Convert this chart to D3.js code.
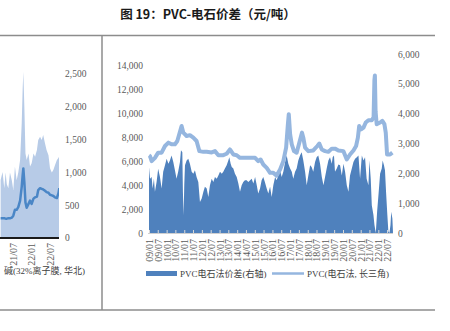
<!DOCTYPE html>
<html>
<head>
<meta charset="utf-8">
<script src="https://cdn.jsdelivr.net/npm/d3@7"></script>
<style>
  body { margin: 0; background: #fff; }
  svg { display: block; }
</style>
</head>
<body>
<svg id="chart" width="450" height="331"></svg>
<script>
// ---------- PVC price (calcium carbide route, Yangtze River Delta), yuan/t, left axis ----------
const pvcDates = ["2009-01-01","2009-01-22","2009-02-25","2009-05-04","2009-07-10","2009-09-19","2009-11-28","2010-02-07","2010-04-13","2010-06-22","2010-08-10","2010-09-19","2010-11-07","2010-12-13","2011-02-19","2011-04-28","2011-07-07","2011-09-13","2011-11-10","2012-02-01","2012-04-10","2012-07-22","2012-09-28","2012-12-07","2013-03-19","2013-05-28","2013-08-04","2013-10-13","2013-12-22","2014-02-28","2014-06-10","2014-09-22","2015-01-07","2015-03-13","2015-05-01","2015-06-25","2015-09-04","2015-11-13","2016-01-19","2016-03-28","2016-06-07","2016-08-13","2016-10-10","2016-11-13","2016-12-04","2017-01-01","2017-02-04","2017-03-22","2017-05-16","2017-07-10","2017-09-04","2017-10-01","2017-11-07","2018-01-13","2018-04-25","2018-07-19","2018-08-28","2018-10-19","2018-12-25","2019-03-04","2019-05-13","2019-07-19","2019-09-28","2020-01-10","2020-03-19","2020-05-25","2020-08-04","2020-09-28","2020-11-04","2020-12-01","2021-01-10","2021-02-28","2021-04-16","2021-06-10","2021-08-19","2021-09-25","2021-10-12","2021-10-22","2021-11-05","2021-11-28","2022-02-07","2022-03-25","2022-05-07","2022-06-04","2022-07-01","2022-09-01","2022-10-19"];
const pvcPrice = [6500,6440,6020,6300,6730,6730,7290,7570,7430,7430,7710,8270,8970,8410,8130,8200,7990,7710,6860,6800,6800,6750,6860,6520,6520,6640,7000,6580,6520,6300,6300,6300,6300,6020,6160,5740,5460,5040,5040,4810,5320,6020,7150,8970,9960,8270,7430,6860,6730,7570,8410,7990,7150,6860,6920,7290,7490,7000,6860,6800,7070,7070,6920,6860,6160,6580,6920,7290,7990,8970,8690,8830,9260,9450,9450,9700,12800,13200,10200,9120,9260,9400,9120,8410,6580,6580,6730];

// ---------- PVC vs calcium carbide spread, yuan/t, right axis ----------
const spreadDates = ["2009-01-01","2009-01-22","2009-02-25","2009-03-16","2009-04-13","2009-05-04","2009-06-07","2009-07-10","2009-08-16","2009-09-19","2009-10-22","2009-11-28","2010-01-01","2010-02-07","2010-03-10","2010-04-13","2010-05-19","2010-06-22","2010-07-25","2010-08-28","2010-10-04","2010-10-25","2010-11-22","2010-12-04","2010-12-19","2011-01-01","2011-01-16","2011-02-19","2011-03-25","2011-04-28","2011-06-04","2011-07-07","2011-08-10","2011-09-13","2011-10-19","2011-11-22","2011-12-28","2012-02-01","2012-03-04","2012-04-10","2012-05-13","2012-06-16","2012-07-22","2012-08-25","2012-09-28","2012-11-04","2012-12-07","2013-01-10","2013-02-16","2013-03-19","2013-04-22","2013-05-28","2013-07-01","2013-07-22","2013-08-19","2013-09-10","2013-10-13","2013-11-16","2013-12-22","2014-01-25","2014-02-28","2014-04-04","2014-05-07","2014-06-10","2014-07-16","2014-08-19","2014-10-28","2014-12-01","2015-01-07","2015-02-10","2015-03-13","2015-04-19","2015-05-22","2015-06-25","2015-07-28","2015-09-04","2015-10-07","2015-11-13","2015-12-16","2016-01-19","2016-02-25","2016-03-28","2016-05-01","2016-06-07","2016-07-10","2016-08-13","2016-09-19","2016-10-22","2016-11-25","2017-01-01","2017-02-04","2017-03-07","2017-04-13","2017-05-16","2017-06-19","2017-07-25","2017-08-28","2017-10-01","2017-11-07","2017-12-10","2018-01-13","2018-02-19","2018-03-22","2018-04-25","2018-06-01","2018-07-04","2018-08-07","2018-09-13","2018-10-19","2018-11-22","2018-12-25","2019-01-28","2019-03-04","2019-04-07","2019-05-13","2019-06-01","2019-06-28","2019-07-19","2019-08-25","2019-09-28","2019-11-01","2019-12-07","2020-01-10","2020-02-13","2020-03-19","2020-04-22","2020-05-25","2020-07-01","2020-08-04","2020-09-07","2020-10-13","2020-11-16","2020-12-19","2021-01-25","2021-02-28","2021-04-01","2021-05-04","2021-06-10","2021-07-01","2021-07-28","2021-08-19","2021-09-22","2021-10-13","2021-11-10","2021-12-07","2022-01-04","2022-02-07","2022-03-13","2022-04-01","2022-04-28","2022-05-19","2022-06-10","2022-07-07","2022-07-28","2022-08-19","2022-09-10","2022-09-25","2022-10-19","2022-10-31"];
const spreadValues = [2200,1820,1880,1490,1820,1380,1710,2150,1880,1490,2050,2270,2490,2320,2430,2600,2380,2100,1820,2050,2380,2770,2710,1380,600,1600,2270,2430,2490,2320,2050,1990,2100,1880,1710,1040,1160,1380,1550,1490,1210,1600,1820,1710,1880,1820,1930,2050,1990,2050,2160,2270,2430,2540,2320,2210,2160,1990,1880,1660,1380,1600,1710,1770,1770,1710,1820,1660,1880,1600,1320,1490,1770,1880,1710,1490,1320,1550,1210,1600,1880,1770,1930,2100,1880,2050,2380,2600,2320,2160,2050,1820,2050,2160,2430,2600,2710,2430,2050,1600,1930,2270,2210,2050,2380,2540,2600,2320,1880,1600,1880,2160,2430,2540,2320,2540,2600,2050,2160,2300,2270,1930,2320,2050,1600,1380,1930,2160,2380,2490,2540,2600,1820,2600,2430,2540,1820,1600,2430,1820,930,600,270,0,710,1270,1990,2160,2430,2270,2100,1380,600,60,0,270,710,490,50];

const xTickLabels = ["09/01","09/07","10/01","10/07","11/01","11/07","12/01","12/07","13/01","13/07","14/01","14/07","15/01","15/07","16/01","16/07","17/01","17/07","18/01","18/07","19/01","19/07","20/01","20/07","21/01","21/07","22/01","22/07"];
const leftTicks = [0, 2000, 4000, 6000, 8000, 10000, 12000, 14000];
const rightTicks = [0, 1000, 2000, 3000, 4000, 5000, 6000];

// ---------- neighbouring panel: caustic soda (32% ion membrane, North China) ----------
const sideDates = ["2021-03-01","2021-03-20","2021-04-06","2021-04-19","2021-05-01","2021-05-16","2021-06-01","2021-06-19","2021-07-04","2021-07-20","2021-08-06","2021-08-22","2021-09-09","2021-09-25","2021-10-04","2021-10-11","2021-10-21","2021-11-01","2021-11-13","2021-12-01","2021-12-16","2022-01-01","2022-01-19","2022-02-04","2022-02-22","2022-03-07","2022-03-25","2022-04-10","2022-04-25","2022-05-13","2022-05-28","2022-06-16","2022-07-01","2022-07-19","2022-08-04","2022-08-19","2022-09-07","2022-09-22","2022-10-01"];
const sideAreaValues = [884,1006,760,1000,820,760,1000,880,730,1090,880,1000,1190,1750,2260,2535,2000,1290,1190,1290,1090,1140,1290,1240,1340,1494,1545,1494,1570,1440,1340,1260,1062,1000,1040,1110,1190,1220,1250];
const sideLineValues = [300,300,300,295,295,300,300,310,340,430,430,470,570,780,950,1060,850,540,460,520,570,520,600,620,630,730,760,750,740,720,700,690,660,650,640,620,610,680,760];
const sideTickLabels = ["21/07","22/01","22/07"];
const sideTicks = [0, 500, 1000, 1500, 2000, 2500];

const SERIF = '"Liberation Serif", "Noto Sans CJK SC", serif';
const parseDay = d3.timeParse("%Y-%m-%d");
const parseTick = d3.timeParse("%y/%m");
const svg = d3.select("#chart");

// ---------- page frame ----------
svg.append("text")
  .attr("x", 208).attr("y", 18.5)
  .attr("text-anchor", "middle")
  .style("font-family", '"Noto Sans CJK SC", sans-serif')
  .style("font-weight", "bold")
  .style("font-size", "12.5px")
  .attr("fill", "#1a1a1a")
  .text("图 19：PVC-电石价差（元/吨）");

const frame = svg.append("g").attr("stroke", "#8c8c8c").attr("stroke-width", 1.5);
frame.append("line").attr("x1", 0).attr("x2", 435).attr("y1", 35.5).attr("y2", 35.5);
frame.append("line").attr("x1", 0).attr("x2", 435).attr("y1", 310).attr("y2", 310);
frame.append("line").attr("x1", 102).attr("x2", 102).attr("y1", 35.5).attr("y2", 310);

// ---------- neighbouring panel (cut off at the page edge) ----------
const side = svg.append("g");
side.append("clipPath").attr("id", "sideClip")
  .append("rect").attr("x", 0).attr("y", 40).attr("width", 59).attr("height", 200);

const xs = d3.scaleTime()
  .domain([parseDay("2021-07-01"), parseDay("2022-07-01")])
  .range([13, 50]);
const ys = d3.scaleLinear().domain([0, 2500]).range([238, 74]);

const sideData = sideDates.map((d, i) => ({ date: parseDay(d), a: sideAreaValues[i], l: sideLineValues[i] }));

side.append("path")
  .datum(sideData)
  .attr("clip-path", "url(#sideClip)")
  .attr("fill", "#b7cbe7")
  .attr("d", d3.area().x(d => xs(d.date)).y0(ys(0)).y1(d => ys(d.a)));

side.append("path")
  .datum(sideData)
  .attr("clip-path", "url(#sideClip)")
  .attr("fill", "none")
  .attr("stroke", "#4a86c6")
  .attr("stroke-width", 2.5)
  .attr("stroke-linejoin", "round")
  .attr("d", d3.line().x(d => xs(d.date)).y(d => ys(d.l)));

side.append("line")
  .attr("x1", 0).attr("x2", 59).attr("y1", 238).attr("y2", 238)
  .attr("stroke", "#1a1a1a").attr("stroke-width", 2);

side.selectAll("text.sy")
  .data(sideTicks)
  .join("text")
  .attr("class", "sy")
  .attr("x", 65).attr("y", d => ys(d)).attr("dy", "0.35em")
  .style("font-family", SERIF).style("font-size", "9.5px")
  .attr("fill", "#595959")
  .text(d => d3.format(",")(d));

side.selectAll("text.sx")
  .data(sideTickLabels)
  .join("text")
  .attr("class", "sx")
  .attr("transform", d => `translate(${xs(parseTick(d))},243) rotate(-90)`)
  .attr("dy", "0.35em")
  .attr("text-anchor", "end")
  .style("font-family", SERIF).style("font-size", "10px")
  .attr("fill", "#595959")
  .text(d => d);

side.append("text")
  .attr("x", 85).attr("y", 273.5)
  .attr("text-anchor", "end")
  .style("font-family", SERIF).style("font-size", "9px")
  .attr("fill", "#404040")
  .text("碱(32%离子膜, 华北)");

// ---------- main chart ----------
const x = d3.scaleTime()
  .domain([parseDay("2009-01-01"), parseDay("2022-11-01")])
  .range([149, 393]);
const yL = d3.scaleLinear().domain([0, 15000]).range([233, 54]);
const yR = d3.scaleLinear().domain([0, 6000]).range([233, 54]);

const pvc = pvcDates.map((d, i) => ({ date: parseDay(d), v: pvcPrice[i] }));
const spread = spreadDates.map((d, i) => ({ date: parseDay(d), v: spreadValues[i] }));

svg.append("path")
  .datum(spread)
  .attr("fill", "#4f81bd")
  .attr("d", d3.area().x(d => x(d.date)).y0(yR(0)).y1(d => yR(d.v)));

svg.append("path")
  .datum(pvc)
  .attr("fill", "none")
  .attr("stroke", "#95b6df")
  .attr("stroke-width", 4)
  .attr("stroke-linejoin", "round")
  .attr("d", d3.line().x(d => x(d.date)).y(d => yL(d.v)));

// bottom axis with inward ticks and vertical labels
const xAxis = svg.append("g")
  .attr("transform", "translate(0,233)")
  .call(d3.axisBottom(x)
    .tickValues(xTickLabels.map(parseTick))
    .tickSizeInner(-3)
    .tickSizeOuter(0)
    .tickFormat(d3.timeFormat("%y/%m")));
xAxis.select(".domain").attr("stroke", "#d0d0d0").attr("d", "M148,0.5H393");
xAxis.selectAll(".tick line").attr("stroke", "#d9d9d9");
xAxis.selectAll(".tick text")
  .attr("transform", "rotate(-90)")
  .attr("x", -6).attr("y", 0).attr("dy", "0.35em")
  .attr("text-anchor", "end")
  .style("font-family", SERIF).style("font-size", "10px")
  .attr("fill", "#595959");

// left axis (PVC price)
const yAxisL = svg.append("g")
  .attr("transform", "translate(148,0)")
  .call(d3.axisLeft(yL).tickValues(leftTicks).tickSize(0).tickPadding(5).tickFormat(d3.format(",")));
yAxisL.select(".domain").remove();
yAxisL.selectAll("text").style("font-family", SERIF).style("font-size", "9.5px").attr("fill", "#595959");

// right axis (spread)
const yAxisR = svg.append("g")
  .attr("transform", "translate(393,0)")
  .call(d3.axisRight(yR).tickValues(rightTicks).tickSize(0).tickPadding(5).tickFormat(d3.format(",")));
yAxisR.select(".domain").remove();
yAxisR.selectAll("text").style("font-family", SERIF).style("font-size", "9.5px").attr("fill", "#595959");

// legend
const legend = svg.append("g").style("font-family", SERIF).style("font-size", "9px");
legend.append("rect").attr("x", 146).attr("y", 271).attr("width", 31).attr("height", 5).attr("fill", "#4f81bd");
legend.append("text").attr("x", 180).attr("y", 276.5).attr("fill", "#404040").text("PVC电石法价差(右轴)");
legend.append("line").attr("x1", 272).attr("x2", 304).attr("y1", 273.5).attr("y2", 273.5)
  .attr("stroke", "#95b6df").attr("stroke-width", 2.5);
legend.append("text").attr("x", 307).attr("y", 276.5).attr("fill", "#404040").text("PVC(电石法, 长三角)");
</script>
</body>
</html>
